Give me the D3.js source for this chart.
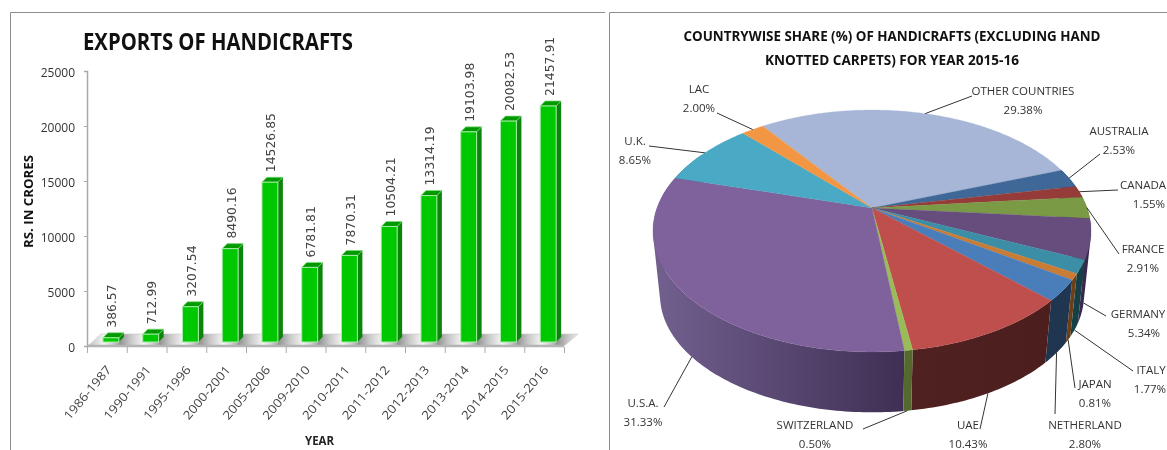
<!DOCTYPE html>
<html><head><meta charset="utf-8">
<script src="https://cdn.jsdelivr.net/npm/d3@7"></script>
<style>html,body{margin:0;padding:0;background:#fff;overflow:hidden}svg{display:block;filter:blur(0.35px)}</style>
</head><body><svg id="c" width="1167" height="450"></svg>
<script>
// ---- data ----
const years = ["1986-1987","1990-1991","1995-1996","2000-2001","2005-2006","2009-2010","2010-2011","2011-2012","2012-2013","2013-2014","2014-2015","2015-2016"];
const exportsCr = [386.57,712.99,3207.54,8490.16,14526.85,6781.81,7870.31,10504.21,13314.19,19103.98,20082.53,21457.91];
const yTicks = [0,5000,10000,15000,20000,25000];
const countries = ["OTHER COUNTRIES","AUSTRALIA","CANADA","FRANCE","GERMANY","ITALY","JAPAN","NETHERLAND","UAE","SWITZERLAND","U.S.A.","U.K.","LAC"];
const shares = [29.38,2.53,1.55,2.91,5.34,1.77,0.81,2.80,10.43,0.50,31.33,8.65,2.00];
// ---- styles ----
const faceColors = ["#a7b6d6","#3f6898","#953c3a","#7b9a45","#674d7e","#3b8ea6","#c97c35","#4a7ebb","#be4f4c","#9bbb59","#7f629c","#4aa9c5","#f39644"];
const sideLeft  = ["#55607a","#1f3550","#4d1f1e","#3e4f22","#3a2a50","#164048","#6b4018","#1f3550","#4f2120","#55692f","#72608f","#2a6273","#8a5526"];
const sideRight = ["#55607a","#1f3550","#4d1f1e","#3e4f22","#34254a","#164048","#6b4018","#1f3550","#4c1e1d","#55692f","#3f2f54","#2a6273","#8a5526"];
// label centre relative to pie centre, elbow of the leader, which rim the leader starts on
const labelDx  = [151,247,271,271,266,279,223,213,96,-57,-229,-237,-173];
const valueDx  = [151,247,277,271,272,278,223,213,96,-57,-229,-237,-173];
const labelDy  = [-117,-77,-23,41,106,162,176,217,217,217,195,-67,-119];
const elbowX  = [972,1100,1118,1119,1106,1133,1075,1055,980,863,664,649,717];
const elbowY  = [96,154,190,254,316,371,388,414,429,429,407,146,113];
const onLowerRim = [0,0,0,0,1,1,1,1,1,1,1,0,0];

const svg = d3.select("#c");
const defs = svg.append("defs");
const sans = "'Open Sans',sans-serif";

// panel frames
const frame = d3.path();
frame.moveTo(10.5,450); frame.lineTo(10.5,12.5); frame.lineTo(605,12.5);
frame.moveTo(609.5,450); frame.lineTo(609.5,12.5); frame.lineTo(1167,12.5);
svg.append("path").attr("d",frame.toString()).attr("fill","none").attr("stroke","#8c8c8c");

// ===== bar chart =====
const depth = 5, floorShift = 4;
const x = d3.scaleBand().domain(years).range([87,564]).paddingInner(0.6).paddingOuter(0.3).align(0.67);
const xEdge = d3.scaleLinear().domain([0,years.length]).range([87,564]);
const y = d3.scaleLinear().domain([0,25000]).range([346,71]);

const floorGrad = defs.append("linearGradient").attr("id","floor").attr("gradientUnits","userSpaceOnUse")
  .attr("x1",119).attr("x2",158.75).attr("y1",0).attr("y2",0).attr("spreadMethod","repeat");
[[0,"#8f8f8f"],[0.3,"#c9c9c9"],[0.62,"#f4f4f4"],[0.8,"#d8d8d8"],[1,"#a8a8a8"]].forEach(s=>floorGrad.append("stop").attr("offset",s[0]).attr("stop-color",s[1]));

const poly = d3.line();
svg.append("path").attr("d",poly([[88,y(0)],[101,y(0)-12],[578,y(0)-12],[564,y(0)]])+"Z")
  .attr("fill","url(#floor)").attr("stroke","#c8c8c8").attr("stroke-width",0.6);
svg.append("path").attr("d",poly([[87,y(0)],[564,y(0)]])).attr("stroke","#b4b4b4").attr("stroke-width",2.5).attr("fill","none");

const yAxis = d3.axisLeft(y).tickValues(yTicks).tickFormat(d3.format("d")).tickSize(3).tickPadding(9);
const gy = svg.append("g").attr("transform","translate(87,0)").call(yAxis);
gy.selectAll("path,line").attr("stroke","#aaa");
gy.select("path").attr("stroke-width",1.5);
gy.selectAll("text").attr("font-family",sans).attr("font-size",12).attr("fill","#333").attr("dy","0.42em");

const edgeAxis = d3.axisBottom(xEdge).ticks(years.length).tickFormat("").tickSizeOuter(6).tickSizeInner(6);
const gEdge = svg.append("g").attr("transform","translate(0,347)").call(edgeAxis);
gEdge.select("path").remove();
gEdge.selectAll("line").attr("stroke","#aaa");

const catAxis = d3.axisBottom(x).tickSize(0);
const gx = svg.append("g").attr("transform","translate(0,347)").call(catAxis);
gx.select("path").remove();
gx.selectAll("text").attr("font-family",sans).attr("font-size",12).attr("fill","#444")
  .attr("text-anchor","end").attr("dy",0).attr("y",0)
  .attr("textLength",66).attr("lengthAdjust","spacingAndGlyphs")
  .attr("transform","translate(1,23) rotate(-50)");

const bars = svg.append("g").selectAll("g").data(years.map((c,i)=>({c,v:exportsCr[i]}))).join("g");
bars.each(function(d){
  const g = d3.select(this), b = x.bandwidth(), L = x(d.c), R = L+b,
        T = y(d.v)-floorShift, B = y(0)-floorShift;
  g.append("path").attr("d",poly([[R,B],[R,T],[R+depth,T-depth],[R+depth,B-depth]])+"Z").attr("fill","#0b860b");
  g.append("path").attr("d",poly([[L,T],[R,T],[R+depth,T-depth],[L+depth,T-depth]])+"Z").attr("fill","#009a00").attr("stroke","#7fdc7f").attr("stroke-width",0.7);
  g.append("rect").attr("x",L).attr("y",T).attr("width",b).attr("height",B-T).attr("fill","#00c800").attr("stroke","#a8eca8").attr("stroke-width",1);
  g.append("text").text(d3.format(".2f")(d.v))
    .attr("transform",`translate(${L+b/2+1},${T-10}) rotate(-90)`)
    .attr("dy","0.36em").attr("font-family","'DejaVu Sans',sans-serif").attr("font-size",12.4).attr("fill","#444");
});

svg.append("text").text("EXPORTS OF HANDICRAFTS").attr("x",83).attr("y",50)
  .attr("font-family",sans).attr("font-weight",700).attr("font-size",24).attr("fill","#111")
  .attr("textLength",270).attr("lengthAdjust","spacingAndGlyphs");
svg.append("text").text("RS. IN CRORES").attr("transform","translate(33,248) rotate(-90)")
  .attr("font-family",sans).attr("font-weight",700).attr("font-size",12).attr("fill","#111")
  .attr("textLength",93).attr("lengthAdjust","spacingAndGlyphs");
svg.append("text").text("YEAR").attr("x",305).attr("y",445)
  .attr("font-family",sans).attr("font-weight",700).attr("font-size",12).attr("fill","#222")
  .attr("textLength",29).attr("lengthAdjust","spacingAndGlyphs");

// ===== perspective pie =====
const deg = Math.PI/180, startAngle = -35.9*deg;
const pie = d3.pie().sort(null).startAngle(startAngle).endAngle(startAngle+2*Math.PI);
const arcs = pie(shares);
const cx = 872, topCy = 208, lowCy = 273, persp = 0.19, topR = 215, topS = 116.6, lowScale = 0.968;
function rim(a, lower){
  const u = Math.sin(a), v = -Math.cos(a), w = 1-persp*v, k = lower?lowScale:1;
  return [cx+k*topR*u/w, (lower?lowCy:topCy)+k*topS*v/w];
}
const pieG = svg.append("g");
// side wall, back to front: one path of same-winding quads per slice
const visLo = 60*deg, visHi = 300*deg;
function norm(a){ let r=a%(2*Math.PI); return r<0?r+2*Math.PI:r; }
const sideOrder = arcs.map((d,i)=>i).sort((p,q)=>{
  const mp=(arcs[p].startAngle+arcs[p].endAngle)/2, mq=(arcs[q].startAngle+arcs[q].endAngle)/2;
  return Math.cos(mq)-Math.cos(mp);
});
sideOrder.forEach(i=>{
  const d = arcs[i];
  const a0 = Math.max(norm(d.startAngle),visLo);
  let a1 = norm(d.startAngle)+(d.endAngle-d.startAngle);
  a1 = Math.min(a1,visHi);
  if(a1<=a0) return;
  const n = Math.max(2,Math.ceil((a1-a0)/(1*deg)));
  const as = d3.range(0,n+1).map(t=>a0+(a1-a0)*t/n);
  const xs = as.flatMap(a=>[rim(a,false)[0],rim(a,true)[0]]);
  const id = "side"+i;
  const gr = defs.append("linearGradient").attr("id",id).attr("gradientUnits","userSpaceOnUse")
    .attr("x1",d3.min(xs)).attr("x2",d3.max(xs)).attr("y1",0).attr("y2",0);
  gr.append("stop").attr("offset",0).attr("stop-color",sideLeft[i]);
  gr.append("stop").attr("offset",1).attr("stop-color",sideRight[i]);
  const wallPath = d3.pairs(as).map(([p,q])=>{
    const quad = [rim(p,false),rim(q,false),rim(q,true),rim(p,true)];
    if(d3.polygonArea(quad)<0) quad.reverse();
    return poly(quad)+"Z";
  }).join("");
  pieG.append("path").attr("d",wallPath).attr("fill",`url(#${id})`).attr("fill-rule","nonzero");
});
// top face
arcs.forEach((d,i)=>{
  const n = Math.max(4,Math.ceil((d.endAngle-d.startAngle)/(1*deg)));
  const pts = d3.range(0,n+1).map(t=>rim(d.startAngle+(d.endAngle-d.startAngle)*t/n,false));
  pieG.append("path").attr("d",poly([[cx,topCy]].concat(pts))+"Z").attr("fill",faceColors[i]).attr("stroke",faceColors[i]).attr("stroke-width",0.3);
});
// leaders and labels
const pieLabels = svg.append("g").attr("font-family",sans).attr("font-size",11.5).attr("fill","#333");
arcs.forEach((d,i)=>{
  const mid = (d.startAngle+d.endAngle)/2;
  const anchor = rim(mid,!!onLowerRim[i]);
  const ly = topCy+labelDy[i];
  pieLabels.append("path").attr("d",poly([anchor,[elbowX[i],elbowY[i]]])).attr("fill","none").attr("stroke","#333").attr("stroke-width",1);
  pieLabels.append("text").text(countries[i]).attr("x",cx+labelDx[i]).attr("y",ly).attr("text-anchor","middle").attr("dy","0.35em");
  pieLabels.append("text").text(d3.format(".2f")(shares[i])+"%").attr("x",cx+valueDx[i]).attr("y",ly+19).attr("text-anchor","middle").attr("dy","0.35em");
});
const titleLines = ["COUNTRYWISE SHARE (%) OF HANDICRAFTS (EXCLUDING HAND","KNOTTED CARPETS) FOR YEAR 2015-16"];
const titleLen = [417,254];
titleLines.forEach((t,i)=>svg.append("text").text(t).attr("x",892).attr("y",41+i*23.5).attr("text-anchor","middle")
  .attr("font-family",sans).attr("font-weight",700).attr("font-size",15).attr("fill","#111")
  .attr("textLength",titleLen[i]).attr("lengthAdjust","spacingAndGlyphs"));
</script></body></html>
